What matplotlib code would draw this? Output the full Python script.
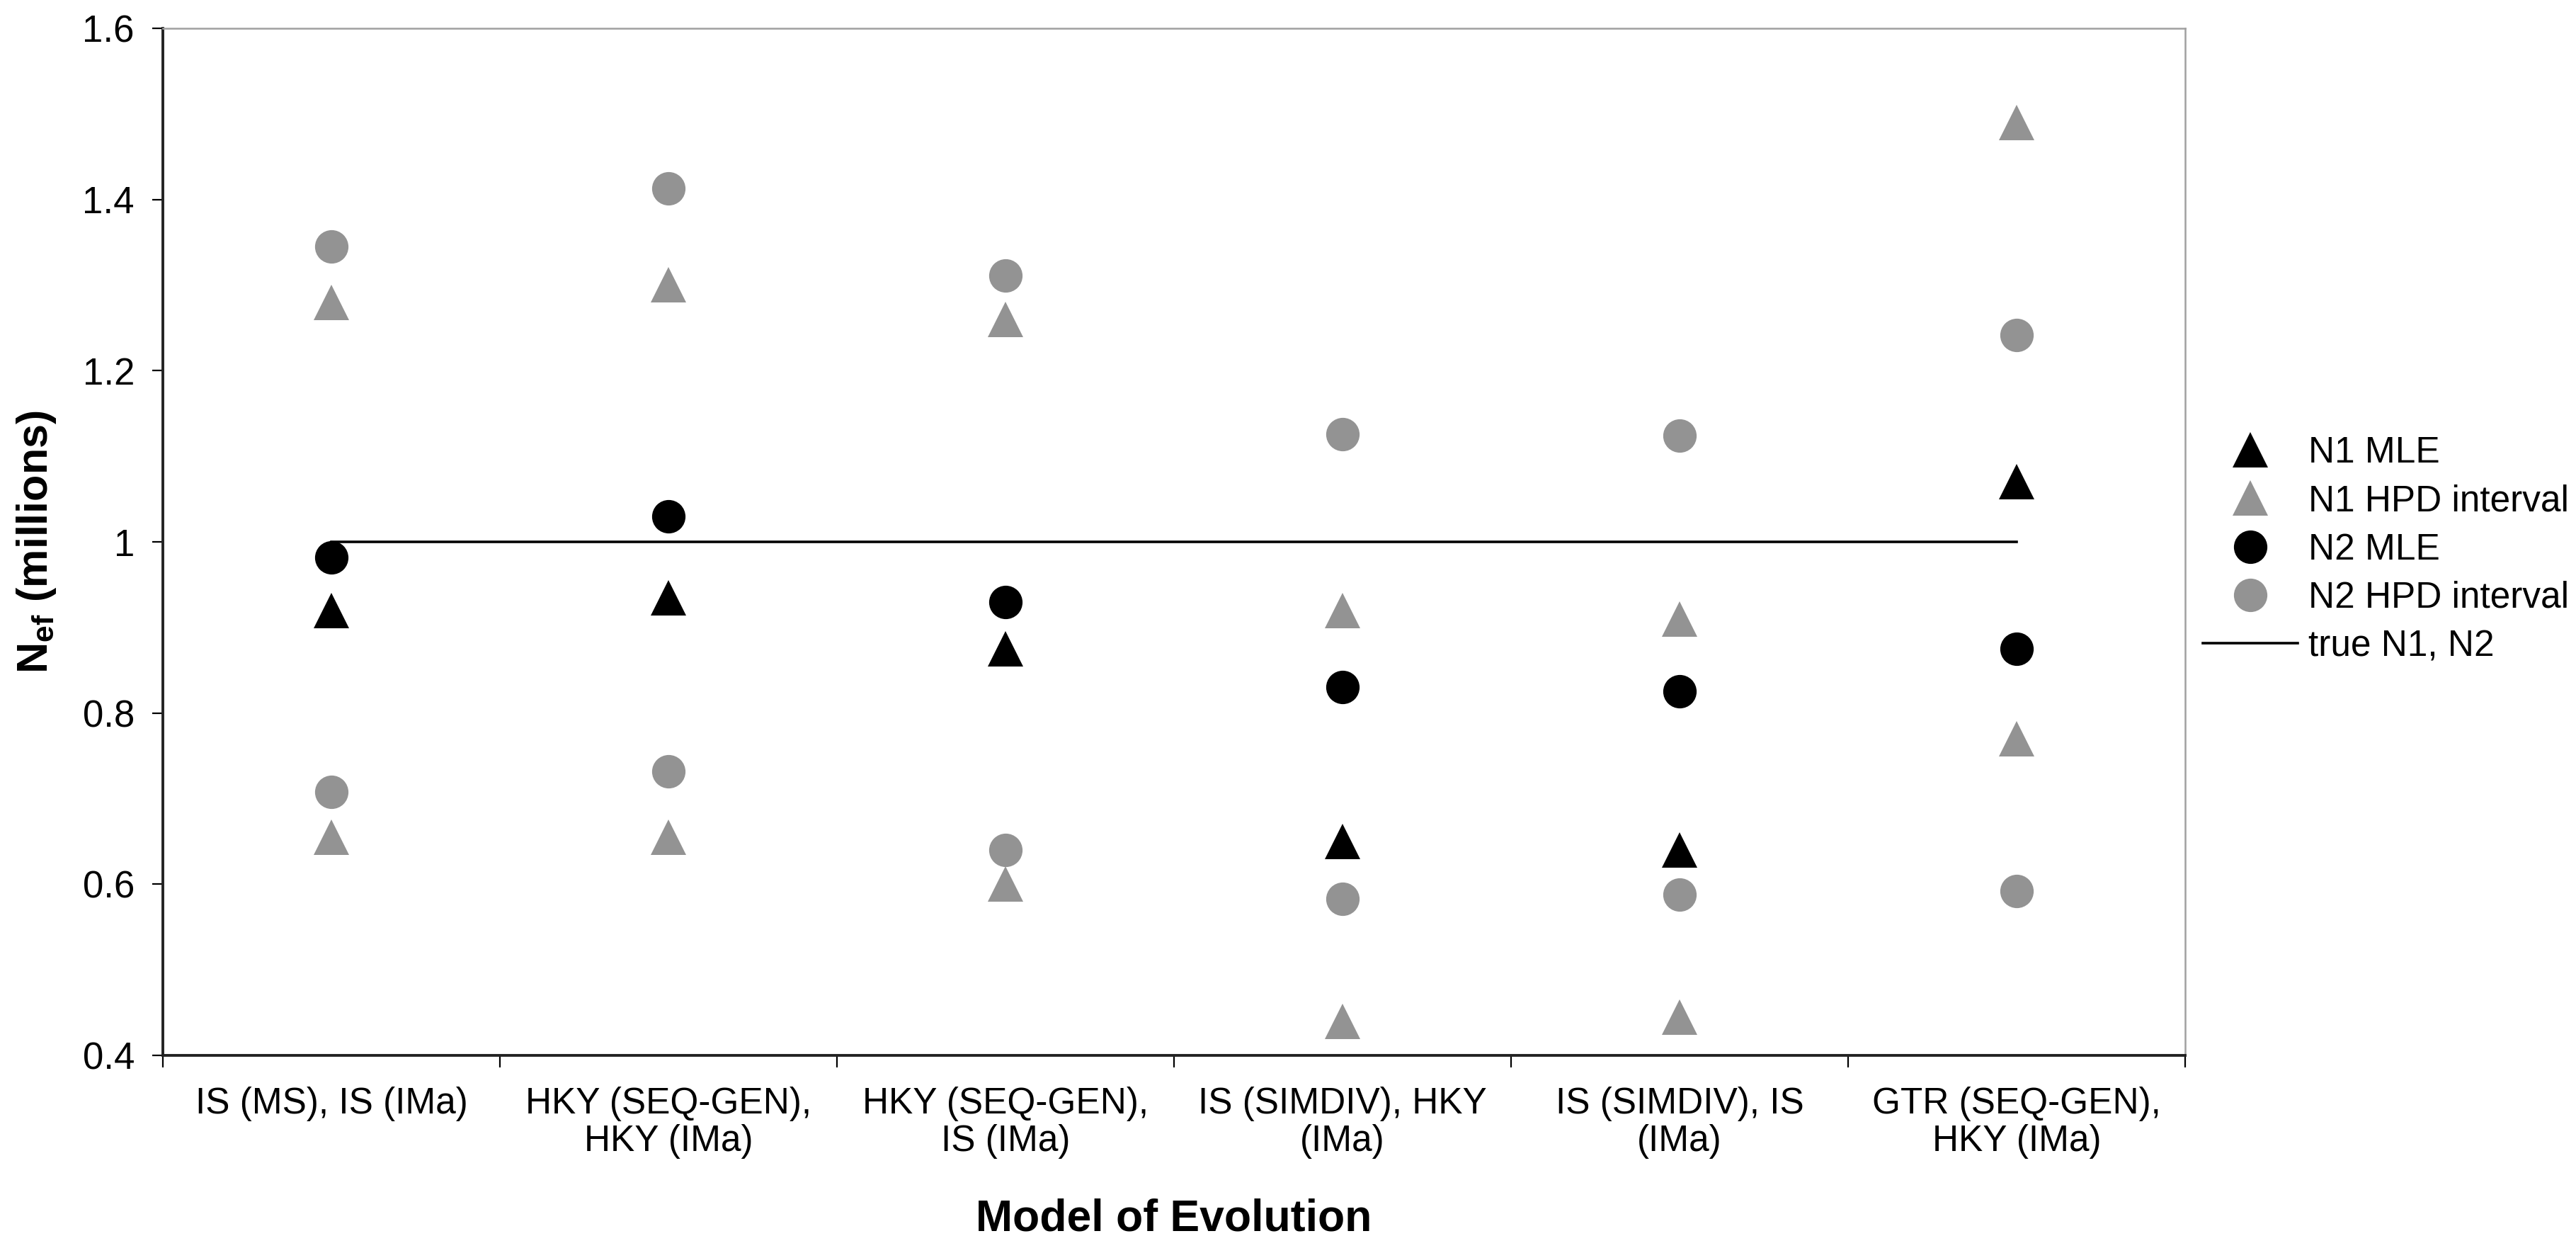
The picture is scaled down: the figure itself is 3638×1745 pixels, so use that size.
import numpy as np
import matplotlib as mpl
mpl.use('Agg')
import matplotlib.pyplot as plt
import matplotlib.transforms as mtransforms

# data
categories = ["IS (MS), IS (IMa)", "HKY (SEQ-GEN),\nHKY (IMa)", "HKY (SEQ-GEN),\nIS (IMa)",
              "IS (SIMDIV), HKY\n(IMa)", "IS (SIMDIV), IS\n(IMa)", "GTR (SEQ-GEN),\nHKY (IMa)"]
n1_mle = [0.92, 0.935, 0.875, 0.65, 0.64, 1.07]
n1_hpd_low = [0.655, 0.655, 0.60, 0.44, 0.445, 0.77]
n1_hpd_high = [1.28, 1.30, 1.26, 0.92, 0.91, 1.49]
n2_mle = [0.982, 1.03, 0.93, 0.83, 0.825, 0.875]
n2_hpd_low = [0.708, 0.732, 0.64, 0.583, 0.588, 0.592]
n2_hpd_high = [1.345, 1.413, 1.311, 1.126, 1.124, 1.242]
true_n = 1.0
yticks = [0.4, 0.6, 0.8, 1.0, 1.2, 1.4, 1.6]
yticklabels = ["0.4", "0.6", "0.8", "1", "1.2", "1.4", "1.6"]

plt.rcParams['font.family'] = ['Liberation Sans', 'DejaVu Sans']
plt.rcParams['mathtext.fontset'] = 'custom'
plt.rcParams['mathtext.bf'] = 'Liberation Sans:bold'
plt.rcParams['mathtext.rm'] = 'Liberation Sans'

grey = '#939393'
tri_ms = 18
dot_ms = 17
x = np.arange(1, len(categories) + 1)

fig = plt.figure(figsize=(18.19, 8.725), dpi=200)
ax = fig.add_axes([0.0632, 0.1461, 0.7851, 0.8310])

ax.plot(x, n1_mle, ls='none', marker='^', ms=tri_ms, mew=0, color='black', label='N1 MLE', zorder=3)
ax.plot(x, n1_hpd_low, ls='none', marker='^', ms=tri_ms, mew=0, color=grey, label='N1 HPD interval', zorder=3)
ax.plot(x, n1_hpd_high, ls='none', marker='^', ms=tri_ms, mew=0, color=grey, zorder=3)
ax.plot(x, n2_mle, ls='none', marker='o', ms=dot_ms, mew=0, color='black', label='N2 MLE', zorder=3)
ax.plot(x, n2_hpd_low, ls='none', marker='o', ms=dot_ms, mew=0, color=grey, label='N2 HPD interval', zorder=3)
ax.plot(x, n2_hpd_high, ls='none', marker='o', ms=dot_ms, mew=0, color=grey, zorder=3)
ax.plot([x[0], x[-1]], [true_n, true_n], color='black', lw=1.3, label='true N1, N2', zorder=2)

ax.set_xlim(0.5, len(categories) + 0.5)
ax.set_ylim(0.4, 1.6)
ax.set_yticks(yticks)
ax.set_yticklabels(yticklabels, fontsize=19)
ax.set_xticks(x)
ax.set_xticklabels(categories, fontsize=18.5, linespacing=1.1)
ax.set_xticks(np.arange(0.5, len(categories) + 1), minor=True)
ax.tick_params(axis='x', which='major', length=0, pad=16)
ax.tick_params(axis='x', which='minor', length=6, width=0.8, direction='out')
ax.tick_params(axis='y', length=5.4, width=0.8, direction='out', pad=9)

for s in ['top', 'right']:
    ax.spines[s].set_color('#a0a0a0')
    ax.spines[s].set_linewidth(0.9)
for s in ['left', 'bottom']:
    ax.spines[s].set_color('#222222')
    ax.spines[s].set_linewidth(1.4)

ax.set_xlabel('Model of Evolution', fontsize=22.5, fontweight='bold')
ax.xaxis.label.set_va('baseline')
ax.xaxis.set_label_coords(0.5, 1 - 1737 / 1745,
                          transform=mtransforms.blended_transform_factory(ax.transAxes, fig.transFigure))
ax.set_ylabel(r'$\mathbf{N_{ef}}$ (millions)', fontsize=22, fontweight='bold')
ax.yaxis.label.set_va('center')
ax.yaxis.set_label_coords(52 / 3638, 0.5,
                          transform=mtransforms.blended_transform_factory(fig.transFigure, ax.transAxes))

fig.legend(loc='upper left', bbox_to_anchor=(3111 / 3638, 1 - 615 / 1745), frameon=False, fontsize=18.5,
           handlelength=2.6, handletextpad=0.3, labelspacing=0.375, borderpad=0, borderaxespad=0)

plt.savefig('out.png', dpi=200)
